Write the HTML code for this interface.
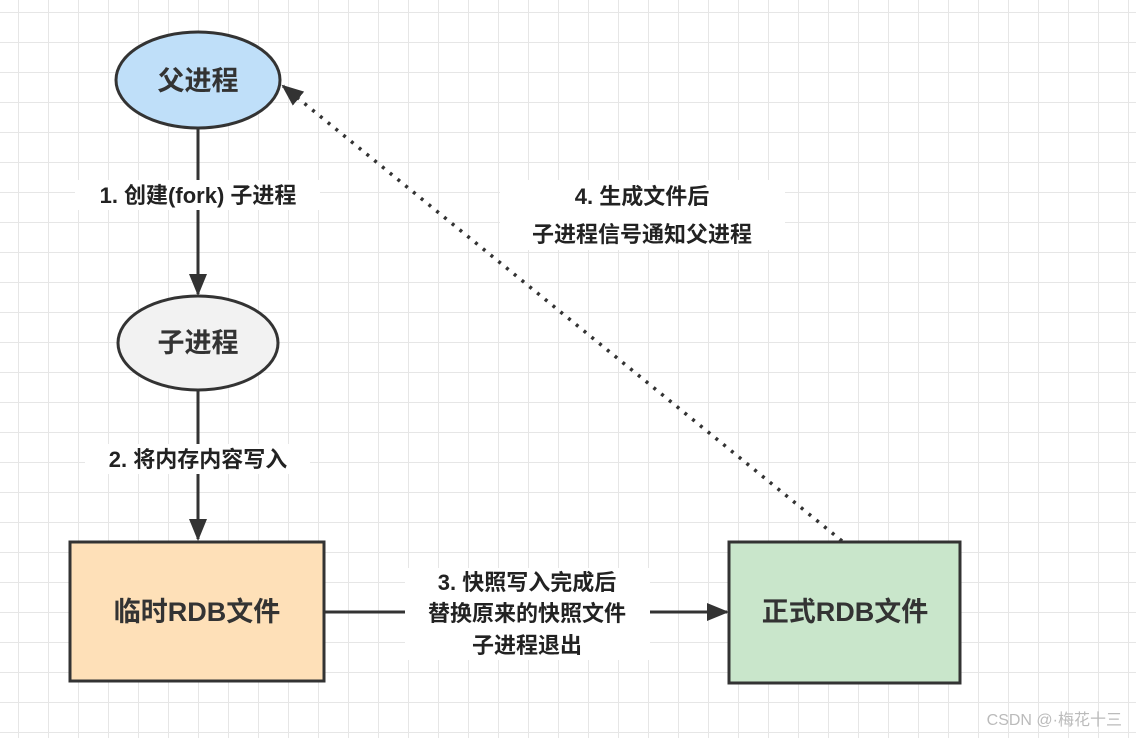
<!DOCTYPE html>
<html><head><meta charset="utf-8"><style>
body{margin:0;width:1136px;height:738px;overflow:hidden;background:#fff;
background-image:linear-gradient(#e6e6e6 1px,transparent 1px),linear-gradient(90deg,#e6e6e6 1px,transparent 1px);
background-size:30px 30px;background-position:18px 12px;font-family:"Liberation Sans","Noto Sans CJK SC",sans-serif;}
</style></head><body>
<svg width="1136" height="738" style="position:absolute;left:0;top:0" font-family="Liberation Sans, Noto Sans CJK SC, sans-serif">
<defs>
<marker id="b" markerWidth="22" markerHeight="22" refX="20" refY="11" orient="auto" markerUnits="userSpaceOnUse" viewBox="0 0 22 22"><path d="M0,2 L22,11 L0,20 z" fill="#333"/></marker>
</defs>
<line x1="198" y1="128" x2="198" y2="294" stroke="#333" stroke-width="3" marker-end="url(#b)"/>
<line x1="198" y1="390" x2="198" y2="539" stroke="#333" stroke-width="3" marker-end="url(#b)"/>
<line x1="324" y1="612" x2="727" y2="612" stroke="#333" stroke-width="3" marker-end="url(#b)"/>
<line x1="842" y1="541" x2="283" y2="86" stroke="#333" stroke-width="3.5" stroke-dasharray="3,7" marker-end="url(#b)"/>
<ellipse cx="198" cy="80" rx="82" ry="48" fill="#bfdff9" stroke="#333" stroke-width="3"/>
<ellipse cx="198" cy="343" rx="80" ry="47" fill="#f2f2f2" stroke="#333" stroke-width="3"/>
<rect x="70" y="542" width="254" height="139" fill="#fee0b8" stroke="#333" stroke-width="3"/>
<rect x="729" y="542" width="231" height="141" fill="#c9e6cb" stroke="#333" stroke-width="3"/>
<g fill="#333" font-size="27" font-weight="bold" text-anchor="middle">
<text x="198" y="90">父进程</text>
<text x="198" y="352">子进程</text>
<text x="197" y="621">临时RDB文件</text>
<text x="845" y="621">正式RDB文件</text>
</g>
<g fill="#222" font-size="22" font-weight="bold" text-anchor="middle">
<rect x="75" y="180" width="245" height="30" fill="#fff"/>
<text x="198" y="203">1. 创建(fork) 子进程</text>
<rect x="85" y="444" width="225" height="30" fill="#fff"/>
<text x="198" y="467">2. 将内存内容写入</text>
<rect x="405" y="568" width="245" height="92" fill="#fff"/>
<text x="527" y="590">3. 快照写入完成后</text>
<text x="527" y="621">替换原来的快照文件</text>
<text x="527" y="653">子进程退出</text>
<rect x="500" y="180" width="285" height="70" fill="#fff"/>
<text x="642" y="204">4. 生成文件后</text>
<text x="642" y="242">子进程信号通知父进程</text>
</g>
<text x="1122" y="725" fill="#bbb" font-size="16" text-anchor="end">CSDN @·梅花十三</text>
</svg>
</body></html>
